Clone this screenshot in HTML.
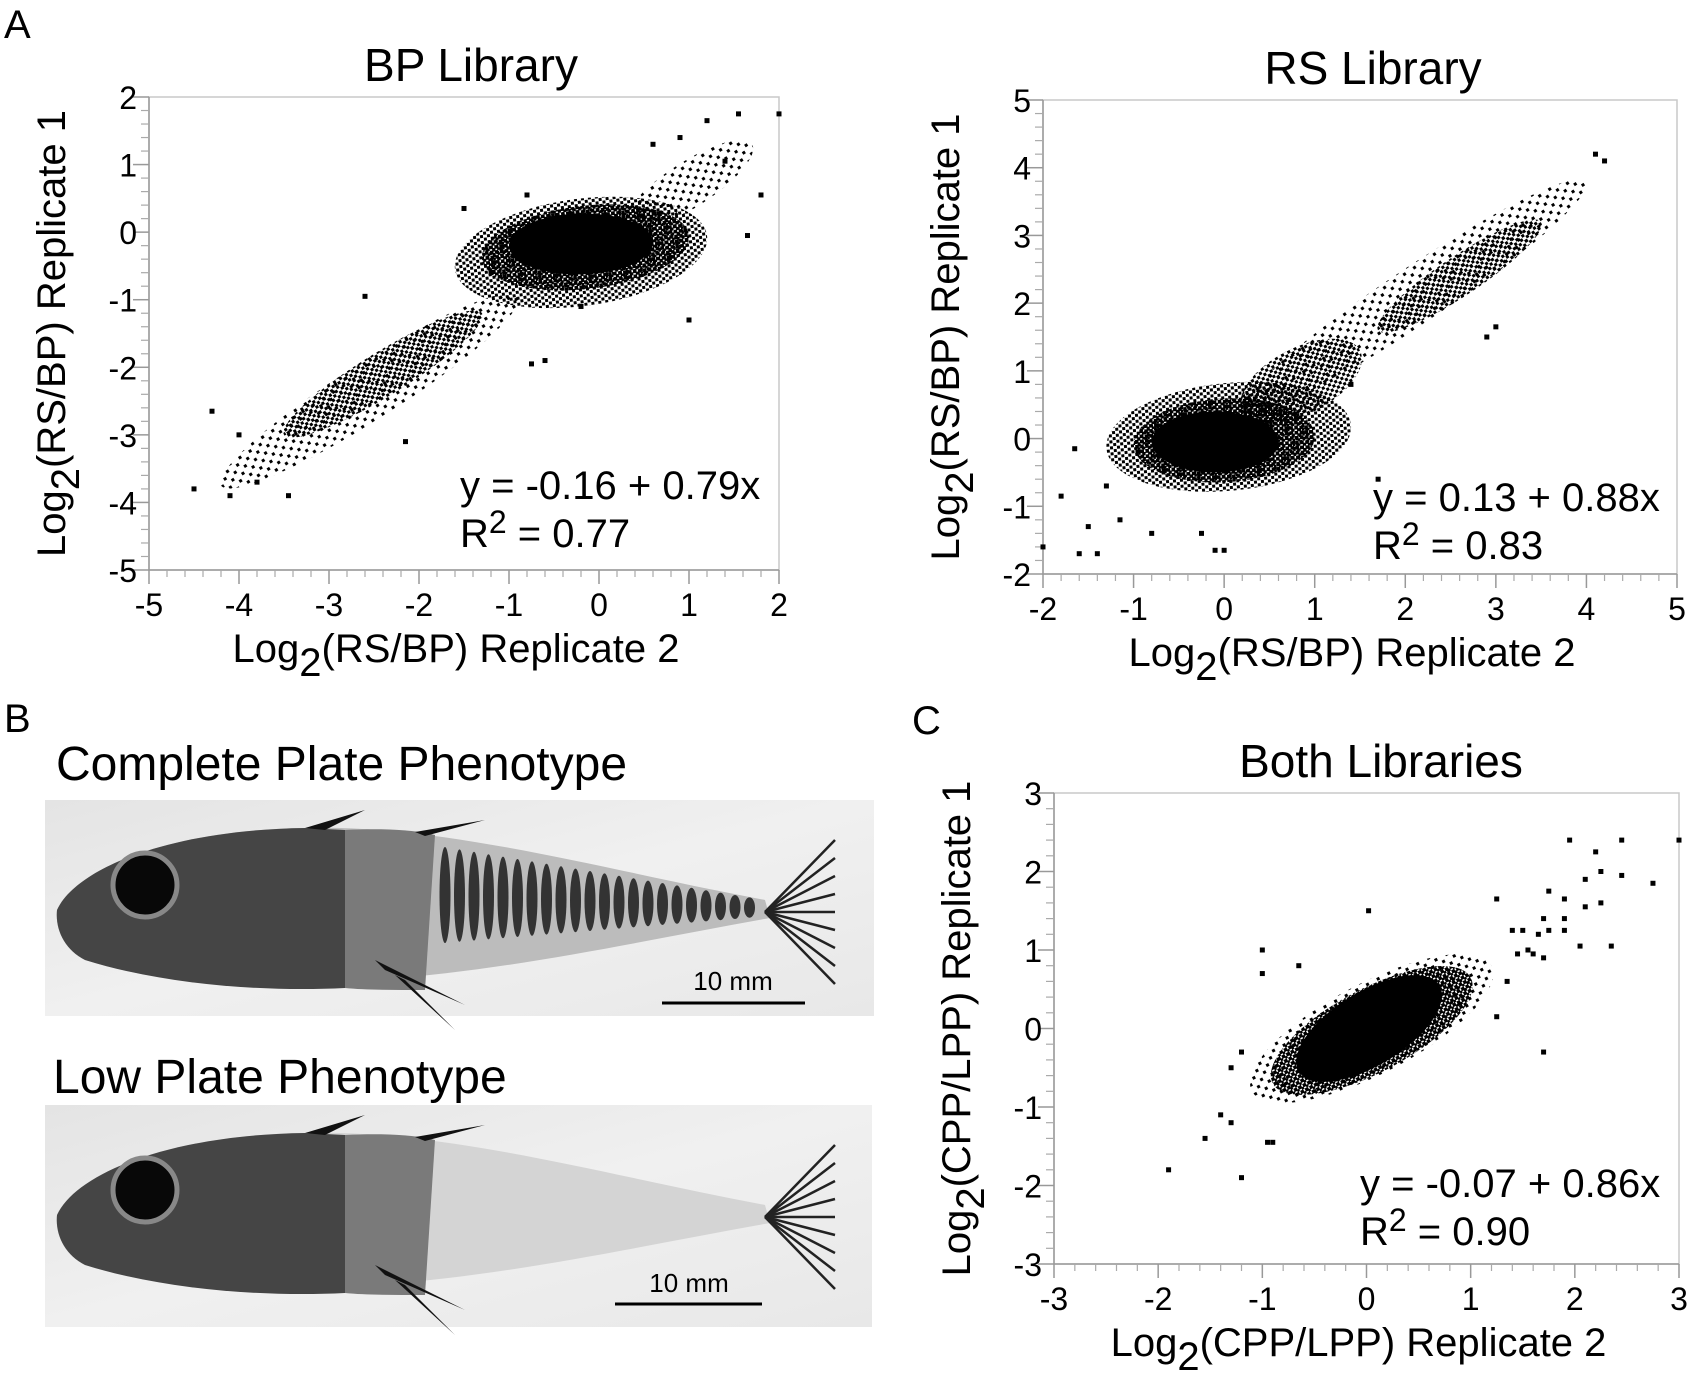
<!DOCTYPE html>
<html><head><meta charset="utf-8">
<style>
html,body{margin:0;padding:0;background:#fff;}
body{width:1692px;height:1382px;overflow:hidden;position:relative;font-family:"Liberation Sans Narrow","Liberation Sans",sans-serif;}
svg text{font-family:"Liberation Sans Narrow","Liberation Sans",sans-serif;fill:#000;}
</style></head>
<body>
<svg id="fig" width="1692" height="1382" viewBox="0 0 1692 1382" xmlns="http://www.w3.org/2000/svg">
<defs>
<pattern id="dense" width="5" height="5" patternUnits="userSpaceOnUse"><rect x="0" y="0" width="3.5" height="3.5" fill="#000"/><rect x="2.5" y="2.5" width="2.5" height="2.5" fill="#000"/></pattern>
<pattern id="medium" width="7" height="6" patternUnits="userSpaceOnUse"><rect x="0" y="0" width="3" height="3" fill="#000"/><rect x="3.5" y="3" width="3" height="3" fill="#000"/></pattern>
<pattern id="sparse" width="12" height="10" patternUnits="userSpaceOnUse"><rect x="1" y="1" width="3" height="3" fill="#000"/><rect x="7" y="6" width="3" height="3" fill="#000"/></pattern>
<linearGradient id="photoBg" x1="0" y1="0" x2="1" y2="1"><stop offset="0" stop-color="#e4e4e4"/><stop offset="0.5" stop-color="#f0f0f0"/><stop offset="1" stop-color="#e8e8e8"/></linearGradient>
</defs>
<text x="4" y="38" font-size="40">A</text>
<text x="4" y="732" font-size="40">B</text>
<text x="912" y="734" font-size="40">C</text>
<g id="chartBP"></g>
<g id="chartRS"></g>
<g id="chartC"></g>
<g id="photos">
 <text x="56" y="780" font-size="48">Complete Plate Phenotype</text>
 <text x="53" y="1093" font-size="48">Low Plate Phenotype</text>
 <rect x="45" y="800" width="829" height="216" fill="url(#photoBg)"/>
 <rect x="45" y="1105" width="827" height="222" fill="url(#photoBg)"/>
 <g id="fish1" transform="translate(45,800)"></g>
 <g id="fish2" transform="translate(45,1105)"></g>
 <line x1="662" y1="1003" x2="805" y2="1003" stroke="#000" stroke-width="3"/>
 <text x="733" y="990" font-size="26" text-anchor="middle">10 mm</text>
 <line x1="615" y1="1304" x2="762" y2="1304" stroke="#000" stroke-width="3"/>
 <text x="689" y="1292" font-size="26" text-anchor="middle">10 mm</text>
</g>
</svg>
<script>
// ---- BP Library data (x = replicate 2, y = replicate 1) ----
const bpXTicks = [-5,-4,-3,-2,-1,0,1,2];
const bpYTicks = [-5,-4,-3,-2,-1,0,1,2];
const bpBands = [ // [x1,y1,x2,y2,halfWidthY, density]
 [-4.2,-3.75,-0.9,-0.95,0.5,'sparse'],
 [-3.5,-3.0,-1.3,-1.2,0.38,'medium'],
 [0.3,0.1,1.7,1.3,0.4,'sparse'],
 [-1.6,-0.55,1.2,-0.05,0.8,'medium'],
 [-1.3,-0.4,1.0,-0.05,0.62,'dense'],
 [-1.0,-0.2,0.6,-0.15,0.45,'solid']
];
const bpOutX = [-4.5,-4.3,2.0,1.55,1.2,1.8,1.65,1.0,-0.6,-0.75,-2.15,-3.45,-2.6,-1.5,-0.8,-4.1,-4.0,-3.8,-1.2,0.6,1.4,0.9,-0.2];
const bpOutY = [-3.8,-2.65,1.75,1.75,1.65,0.55,-0.05,-1.3,-1.9,-1.95,-3.1,-3.9,-0.95,0.35,0.55,-3.9,-3.0,-3.7,-0.6,1.3,1.05,1.4,-1.1];
const bpEq = ["y = -0.16 + 0.79x","0.77"];

// ---- RS Library data ----
const rsXTicks = [-2,-1,0,1,2,3,4,5];
const rsYTicks = [-2,-1,0,1,2,3,4,5];
const rsBands = [
 [0.2,0.4,4.0,3.8,0.5,'sparse'],
 [1.7,1.6,3.5,3.2,0.35,'medium'],
 [0.2,0.4,1.5,1.3,0.55,'medium'],
 [-1.3,-0.15,1.4,0.2,0.8,'medium'],
 [-1.0,-0.1,1.0,0.05,0.62,'dense'],
 [-0.8,-0.05,0.6,-0.05,0.45,'solid']
];
const rsOutX = [-2.0,-1.8,-1.6,-1.5,-1.4,0.0,-0.1,-0.25,-0.8,4.2,4.1,-1.65,1.7,-1.15,-1.3,2.9,3.0,1.4];
const rsOutY = [-1.6,-0.85,-1.7,-1.3,-1.7,-1.65,-1.65,-1.4,-1.4,4.1,4.2,-0.15,-0.6,-1.2,-0.7,1.5,1.65,0.8];
const rsEq = ["y = 0.13 + 0.88x","0.83"];

// ---- Both Libraries data ----
const cXTicks = [-3,-2,-1,0,1,2,3];
const cYTicks = [-3,-2,-1,0,1,2,3];
const cBands = [
 [-1.1,-0.8,1.2,0.8,0.65,'sparse'],
 [-0.9,-0.7,1.0,0.65,0.6,'dense'],
 [-0.65,-0.55,0.7,0.55,0.55,'solid']
];
const cOutX = [1.95,2.45,3.0,2.2,2.25,2.45,2.1,2.75,1.25,1.75,1.9,2.1,2.25,1.7,1.9,1.5,1.65,1.75,1.9,1.4,2.35,2.05,1.55,1.6,1.7,1.45,0.02,-1.0,-1.0,-0.65,1.7,-1.9,-1.2,-1.55,-1.3,-1.4,-0.95,-0.9,-1.3,-1.2,1.25,1.35];
const cOutY = [2.4,2.4,2.4,2.25,2.0,1.95,1.9,1.85,1.65,1.75,1.65,1.55,1.6,1.4,1.4,1.25,1.2,1.25,1.25,1.25,1.05,1.05,1.0,0.95,0.9,0.95,1.5,1.0,0.7,0.8,-0.3,-1.8,-1.9,-1.4,-1.2,-1.1,-1.45,-1.45,-0.5,-0.3,0.15,0.6];
const cEq = ["y = -0.07 + 0.86x","0.90"];

const NS = "http://www.w3.org/2000/svg";
function mk(tag, attrs, parent){
  const e = document.createElementNS(NS, tag);
  for (const k in attrs) e.setAttribute(k, attrs[k]);
  parent.appendChild(e);
  return e;
}
function drawChart(g, L, xTicks, yTicks, bands, ox, oy, eq){
  const x0 = xTicks[0], x1 = xTicks[xTicks.length-1];
  const y0 = yTicks[0], y1 = yTicks[yTicks.length-1];
  const sx = v => L.left + (v - x0) / (x1 - x0) * (L.right - L.left);
  const sy = v => L.bottom - (v - y0) / (y1 - y0) * (L.bottom - L.top);
  const fr = mk('rect', {x:L.left, y:L.top, width:L.right-L.left, height:L.bottom-L.top, fill:'none', stroke:'#c8c8c8', 'stroke-width':1.5}, g);
  
  
  const ax = mk('line', {x1:L.left, y1:L.bottom, x2:L.right, y2:L.bottom, stroke:'#999', 'stroke-width':1.5}, g);
  
  
  const ay = mk('line', {x1:L.left, y1:L.top, x2:L.left, y2:L.bottom, stroke:'#999', 'stroke-width':1.5}, g);
  
  
  for (let i = 0; i < xTicks.length; i++){
    const v = xTicks[i];
    const t = mk('line', {x1:sx(v), y1:L.bottom, x2:sx(v), y2:L.bottom+14, stroke:'#999', 'stroke-width':1.5}, g);
    
    
    if (i < xTicks.length-1){
      for (let k = 1; k < 5; k++){
        const m = mk('line', {x1:sx(v+k*0.2), y1:L.bottom, x2:sx(v+k*0.2), y2:L.bottom+7, stroke:'#aaa', 'stroke-width':1.2}, g);
        
        
      }
    }
    const lb = mk('text', {x:sx(v), y:L.bottom+46, 'font-size':32, 'text-anchor':'middle'}, g);
    
    
    lb.textContent = String(v);
  }
  for (let i = 0; i < yTicks.length; i++){
    const v = yTicks[i];
    const t = mk('line', {x1:L.left-16, y1:sy(v), x2:L.left, y2:sy(v), stroke:'#999', 'stroke-width':1.5}, g);
    
    
    if (i < yTicks.length-1){
      for (let k = 1; k < 5; k++){
        const m = mk('line', {x1:L.left-8, y1:sy(v+k*0.2), x2:L.left, y2:sy(v+k*0.2), stroke:'#aaa', 'stroke-width':1.2}, g);
        
        
      }
    }
    const lb = mk('text', {x:L.left-12, y:sy(v)+12, 'font-size':32, 'text-anchor':'end'}, g);
    
    
    lb.textContent = String(v);
  }
  for (const b of bands){
    const px1 = sx(b[0]), py1 = sy(b[1]), px2 = sx(b[2]), py2 = sy(b[3]);
    const cx = (px1+px2)/2, cy = (py1+py2)/2;
    const len = Math.hypot(px2-px1, py2-py1)/2;
    const ang = Math.atan2(py2-py1, px2-px1)*180/Math.PI;
    const hw = Math.abs(sy(0) - sy(b[4])) * Math.cos(ang*Math.PI/180);
    const fill = b[5] === 'solid' ? '#000' : 'url(#' + b[5] + ')';
    const e = mk('ellipse', {cx:cx, cy:cy, rx:Math.max(len, hw), ry:Math.abs(hw), fill:fill, transform:'rotate(' + ang + ' ' + cx + ' ' + cy + ')'}, g);
    
    
  }
  for (let i = 0; i < ox.length; i++){
    const p = mk('rect', {x:sx(ox[i])-2.5, y:sy(oy[i])-2.5, width:5, height:5, fill:'#000'}, g);
    
    
  }
  const tt = mk('text', {x:L.titleX, y:L.top-16, 'font-size':46, 'text-anchor':'middle'}, g);
  
  
  tt.textContent = L.title;
  const xt = mk('text', {x:(L.left+L.right)/2 - 8, y:L.bottom+92, 'font-size':40, 'text-anchor':'middle'}, g);
  
  
  xt.innerHTML = 'Log<tspan font-size="40" dy="14">2</tspan><tspan dy="-14">' + L.axisName + ' Replicate 2</tspan>';
  const yc = (L.top+L.bottom)/2;
  const yt = mk('text', {x:0, y:0, 'font-size':40, 'text-anchor':'middle', transform:'translate(' + (L.left-84) + ',' + yc + ') rotate(-90)'}, g);
  
  
  yt.innerHTML = 'Log<tspan font-size="40" dy="14">2</tspan><tspan dy="-14">' + L.axisName + ' Replicate 1</tspan>';
  const e1 = mk('text', {x:L.eqX, y:L.eqY, 'font-size':40}, g);
  
  
  e1.textContent = eq[0];
  const e2 = mk('text', {x:L.eqX, y:L.eqY+48, 'font-size':40}, g);
  
  
  e2.innerHTML = 'R<tspan dy="-14" font-size="32">2</tspan><tspan dy="14"> = ' + eq[1] + '</tspan>';
}
drawChart(document.getElementById('chartBP'),
 {left:149,right:779,top:97,bottom:570,title:'BP Library',titleX:471,axisName:'(RS/BP)',eqX:460,eqY:499},
 bpXTicks,bpYTicks,bpBands,bpOutX,bpOutY,bpEq);
drawChart(document.getElementById('chartRS'),
 {left:1043,right:1677,top:100,bottom:574,title:'RS Library',titleX:1373,axisName:'(RS/BP)',eqX:1373,eqY:511},
 rsXTicks,rsYTicks,rsBands,rsOutX,rsOutY,rsEq);
drawChart(document.getElementById('chartC'),
 {left:1054,right:1679,top:793,bottom:1264,title:'Both Libraries',titleX:1381,axisName:'(CPP/LPP)',eqX:1360,eqY:1197},
 cXTicks,cYTicks,cBands,cOutX,cOutY,cEq);

// ---- fish illustrations ----
function fish(g, plates){
  const body = mk('path', {d:'M12,110 C30,70 120,30 260,28 C400,24 560,70 720,100 L725,118 C600,140 470,170 330,180 C220,190 120,185 40,160 C20,150 10,130 12,110Z', fill: plates ? '#bcbcbc' : '#d4d4d4'}, g);
  
  
  const head = mk('path', {d:'M12,110 C30,70 120,30 260,28 L300,30 C310,90 310,150 300,188 C220,192 120,185 40,160 C20,150 10,130 12,110Z', fill:'#454545'}, g);
  
  
  const mid = mk('path', {d:'M300,30 C340,28 370,30 390,35 L380,190 C350,190 320,190 300,188Z', fill:'#7a7a7a'}, g);
  
  
  const eye = mk('circle', {cx:100, cy:85, r:32, fill:'#080808', stroke:'#888', 'stroke-width':5}, g);
  
  
  for (let i = 0; i < plates; i++){
    const pl = mk('ellipse', {cx:400+i*14.5, cy:95+i*0.6, rx:5.5, ry:Math.max(8, 48-i*1.8), fill:'#333'}, g);
    
    
  }
  for (let k = 0; k < 9; k++){
    const fl = mk('line', {x1:720, y1:112, x2:790, y2:40+k*18, stroke:'#222', 'stroke-width':2.5}, g);
    
    
  }
  const sp = mk('path', {d:'M330,160 L420,205 L340,170 Z M350,175 L410,230 L360,180Z M260,28 L320,10 L280,30Z M370,32 L440,20 L380,36Z', fill:'#111'}, g);
  
  
}
fish(document.getElementById('fish1'), 22);
fish(document.getElementById('fish2'), 0);
</script>
</body></html>
